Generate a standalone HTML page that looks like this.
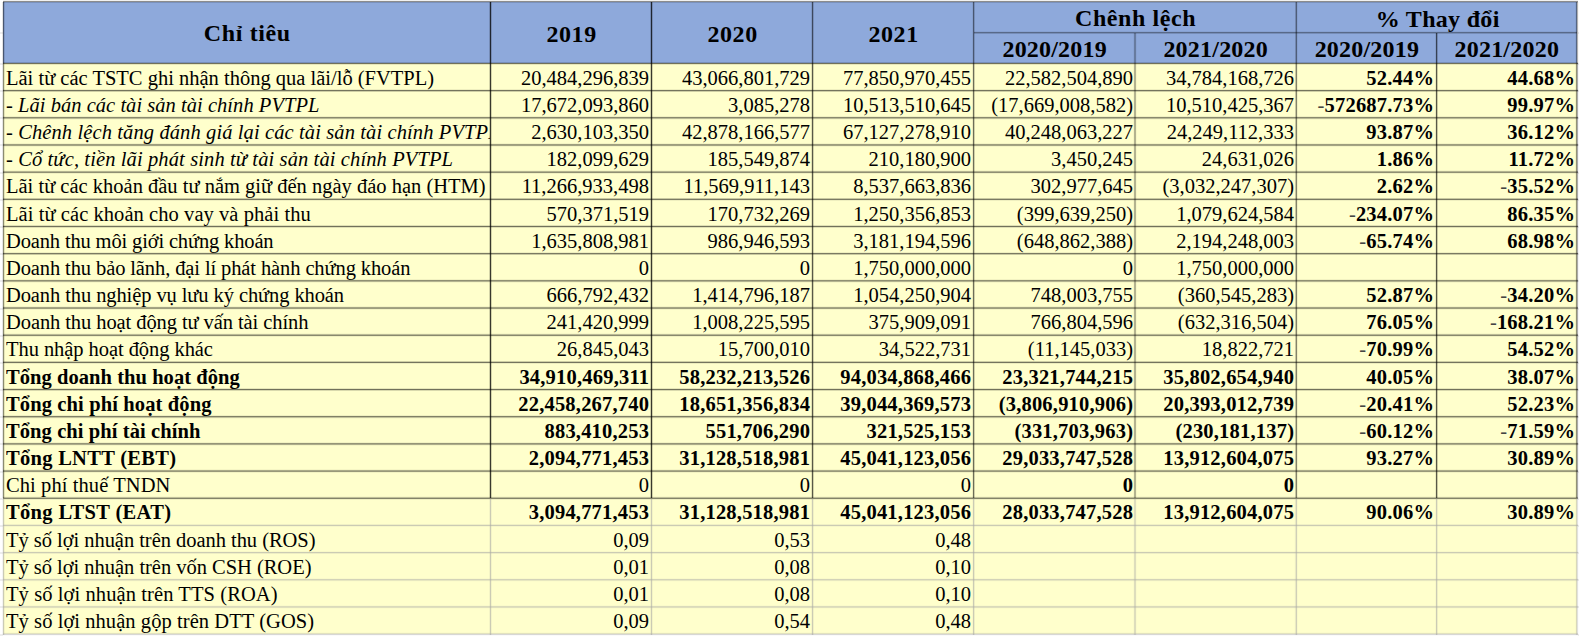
<!DOCTYPE html>
<html><head><meta charset="utf-8"><style>
html,body{margin:0;padding:0;}
body{width:1579px;height:637px;overflow:hidden;background:#fff;position:relative;font-family:"Liberation Serif",serif;color:#000;}
body>div{position:absolute;}

.t{height:20.5px;font-size:20.5px;line-height:20.5px;white-space:nowrap;}
.l{overflow:hidden;padding-top:6px;height:30px;}
.n{text-align:right;}
.bo{font-weight:bold;}
.it{font-style:italic;}
.h{height:24px;font-size:24px;line-height:24px;font-weight:bold;white-space:nowrap;text-align:center;}
</style></head><body>
<div style="left:3px;top:2px;width:1574px;height:61px;background:#8ea9db"></div>
<div style="left:3px;top:63px;width:1574px;height:571px;background:#ffffcc"></div>
<div style="left:0;top:63px;width:3px;height:2px;background:rgba(0,0,0,0.07)"></div>
<div style="left:1578px;top:63px;width:1px;height:2px;background:rgba(0,0,0,0.07)"></div>
<div style="left:0;top:90px;width:3px;height:2px;background:rgba(0,0,0,0.07)"></div>
<div style="left:1578px;top:90px;width:1px;height:2px;background:rgba(0,0,0,0.07)"></div>
<div style="left:0;top:117px;width:3px;height:2px;background:rgba(0,0,0,0.07)"></div>
<div style="left:1578px;top:117px;width:1px;height:2px;background:rgba(0,0,0,0.07)"></div>
<div style="left:0;top:144px;width:3px;height:2px;background:rgba(0,0,0,0.07)"></div>
<div style="left:1578px;top:144px;width:1px;height:2px;background:rgba(0,0,0,0.07)"></div>
<div style="left:0;top:172px;width:3px;height:2px;background:rgba(0,0,0,0.07)"></div>
<div style="left:1578px;top:172px;width:1px;height:2px;background:rgba(0,0,0,0.07)"></div>
<div style="left:0;top:199px;width:3px;height:2px;background:rgba(0,0,0,0.07)"></div>
<div style="left:1578px;top:199px;width:1px;height:2px;background:rgba(0,0,0,0.07)"></div>
<div style="left:0;top:226px;width:3px;height:2px;background:rgba(0,0,0,0.07)"></div>
<div style="left:1578px;top:226px;width:1px;height:2px;background:rgba(0,0,0,0.07)"></div>
<div style="left:0;top:253px;width:3px;height:2px;background:rgba(0,0,0,0.07)"></div>
<div style="left:1578px;top:253px;width:1px;height:2px;background:rgba(0,0,0,0.07)"></div>
<div style="left:0;top:280px;width:3px;height:2px;background:rgba(0,0,0,0.07)"></div>
<div style="left:1578px;top:280px;width:1px;height:2px;background:rgba(0,0,0,0.07)"></div>
<div style="left:0;top:308px;width:3px;height:2px;background:rgba(0,0,0,0.07)"></div>
<div style="left:1578px;top:308px;width:1px;height:2px;background:rgba(0,0,0,0.07)"></div>
<div style="left:0;top:335px;width:3px;height:2px;background:rgba(0,0,0,0.07)"></div>
<div style="left:1578px;top:335px;width:1px;height:2px;background:rgba(0,0,0,0.07)"></div>
<div style="left:0;top:362px;width:3px;height:2px;background:rgba(0,0,0,0.07)"></div>
<div style="left:1578px;top:362px;width:1px;height:2px;background:rgba(0,0,0,0.07)"></div>
<div style="left:0;top:389px;width:3px;height:2px;background:rgba(0,0,0,0.07)"></div>
<div style="left:1578px;top:389px;width:1px;height:2px;background:rgba(0,0,0,0.07)"></div>
<div style="left:0;top:416px;width:3px;height:2px;background:rgba(0,0,0,0.07)"></div>
<div style="left:1578px;top:416px;width:1px;height:2px;background:rgba(0,0,0,0.07)"></div>
<div style="left:0;top:443px;width:3px;height:2px;background:rgba(0,0,0,0.07)"></div>
<div style="left:1578px;top:443px;width:1px;height:2px;background:rgba(0,0,0,0.07)"></div>
<div style="left:0;top:471px;width:3px;height:2px;background:rgba(0,0,0,0.07)"></div>
<div style="left:1578px;top:471px;width:1px;height:2px;background:rgba(0,0,0,0.07)"></div>
<div style="left:0;top:498px;width:3px;height:2px;background:rgba(0,0,0,0.07)"></div>
<div style="left:1578px;top:498px;width:1px;height:2px;background:rgba(0,0,0,0.07)"></div>
<div style="left:0;top:525px;width:3px;height:2px;background:rgba(0,0,0,0.07)"></div>
<div style="left:1578px;top:525px;width:1px;height:2px;background:rgba(0,0,0,0.07)"></div>
<div style="left:0;top:552px;width:3px;height:2px;background:rgba(0,0,0,0.07)"></div>
<div style="left:1578px;top:552px;width:1px;height:2px;background:rgba(0,0,0,0.07)"></div>
<div style="left:0;top:579px;width:3px;height:2px;background:rgba(0,0,0,0.07)"></div>
<div style="left:1578px;top:579px;width:1px;height:2px;background:rgba(0,0,0,0.07)"></div>
<div style="left:0;top:606px;width:3px;height:2px;background:rgba(0,0,0,0.07)"></div>
<div style="left:1578px;top:606px;width:1px;height:2px;background:rgba(0,0,0,0.07)"></div>
<div style="left:0;top:634px;width:3px;height:2px;background:rgba(0,0,0,0.07)"></div>
<div style="left:1578px;top:634px;width:1px;height:2px;background:rgba(0,0,0,0.07)"></div>
<div style="left:0;top:32px;width:3px;height:2px;background:rgba(0,0,0,0.07)"></div>
<div style="left:1578px;top:32px;width:1px;height:2px;background:rgba(0,0,0,0.07)"></div>
<div style="left:3px;top:0px;width:1575px;height:1px;background:rgba(0,0,0,0.055)"></div>
<div style="left:3px;top:1px;width:1575px;height:1px;background:rgba(0,0,0,0.451)"></div>
<div style="left:3px;top:2px;width:1575px;height:1px;background:rgba(0,0,0,0.143)"></div>
<div style="left:974px;top:31px;width:603px;height:1px;background:rgba(0,0,0,0.045)"></div>
<div style="left:974px;top:32px;width:603px;height:1px;background:rgba(0,0,0,0.375)"></div>
<div style="left:974px;top:33px;width:603px;height:1px;background:rgba(0,0,0,0.165)"></div>
<div style="left:3px;top:62px;width:1575px;height:1px;background:rgba(0,0,0,0.150)"></div>
<div style="left:3px;top:63px;width:1575px;height:1px;background:rgba(0,0,0,0.558)"></div>
<div style="left:3px;top:64px;width:1575px;height:1px;background:rgba(0,0,0,0.095)"></div>
<div style="left:3px;top:89px;width:1575px;height:1px;background:rgba(0,0,0,0.066)"></div>
<div style="left:3px;top:90px;width:1575px;height:1px;background:rgba(0,0,0,0.546)"></div>
<div style="left:3px;top:91px;width:1575px;height:1px;background:rgba(0,0,0,0.189)"></div>
<div style="left:3px;top:116px;width:1575px;height:1px;background:rgba(0,0,0,0.054)"></div>
<div style="left:3px;top:117px;width:1575px;height:1px;background:rgba(0,0,0,0.462)"></div>
<div style="left:3px;top:118px;width:1575px;height:1px;background:rgba(0,0,0,0.272)"></div>
<div style="left:3px;top:119px;width:1575px;height:1px;background:rgba(0,0,0,0.027)"></div>
<div style="left:3px;top:143px;width:1575px;height:1px;background:rgba(0,0,0,0.042)"></div>
<div style="left:3px;top:144px;width:1575px;height:1px;background:rgba(0,0,0,0.379)"></div>
<div style="left:3px;top:145px;width:1575px;height:1px;background:rgba(0,0,0,0.355)"></div>
<div style="left:3px;top:146px;width:1575px;height:1px;background:rgba(0,0,0,0.039)"></div>
<div style="left:3px;top:170px;width:1575px;height:1px;background:rgba(0,0,0,0.031)"></div>
<div style="left:3px;top:171px;width:1575px;height:1px;background:rgba(0,0,0,0.296)"></div>
<div style="left:3px;top:172px;width:1575px;height:1px;background:rgba(0,0,0,0.439)"></div>
<div style="left:3px;top:173px;width:1575px;height:1px;background:rgba(0,0,0,0.051)"></div>
<div style="left:3px;top:198px;width:1575px;height:1px;background:rgba(0,0,0,0.213)"></div>
<div style="left:3px;top:199px;width:1575px;height:1px;background:rgba(0,0,0,0.522)"></div>
<div style="left:3px;top:200px;width:1575px;height:1px;background:rgba(0,0,0,0.063)"></div>
<div style="left:3px;top:225px;width:1575px;height:1px;background:rgba(0,0,0,0.122)"></div>
<div style="left:3px;top:226px;width:1575px;height:1px;background:rgba(0,0,0,0.558)"></div>
<div style="left:3px;top:227px;width:1575px;height:1px;background:rgba(0,0,0,0.122)"></div>
<div style="left:3px;top:252px;width:1575px;height:1px;background:rgba(0,0,0,0.063)"></div>
<div style="left:3px;top:253px;width:1575px;height:1px;background:rgba(0,0,0,0.522)"></div>
<div style="left:3px;top:254px;width:1575px;height:1px;background:rgba(0,0,0,0.213)"></div>
<div style="left:3px;top:279px;width:1575px;height:1px;background:rgba(0,0,0,0.051)"></div>
<div style="left:3px;top:280px;width:1575px;height:1px;background:rgba(0,0,0,0.439)"></div>
<div style="left:3px;top:281px;width:1575px;height:1px;background:rgba(0,0,0,0.296)"></div>
<div style="left:3px;top:282px;width:1575px;height:1px;background:rgba(0,0,0,0.031)"></div>
<div style="left:3px;top:306px;width:1575px;height:1px;background:rgba(0,0,0,0.039)"></div>
<div style="left:3px;top:307px;width:1575px;height:1px;background:rgba(0,0,0,0.355)"></div>
<div style="left:3px;top:308px;width:1575px;height:1px;background:rgba(0,0,0,0.379)"></div>
<div style="left:3px;top:309px;width:1575px;height:1px;background:rgba(0,0,0,0.043)"></div>
<div style="left:3px;top:333px;width:1575px;height:1px;background:rgba(0,0,0,0.027)"></div>
<div style="left:3px;top:334px;width:1575px;height:1px;background:rgba(0,0,0,0.272)"></div>
<div style="left:3px;top:335px;width:1575px;height:1px;background:rgba(0,0,0,0.462)"></div>
<div style="left:3px;top:336px;width:1575px;height:1px;background:rgba(0,0,0,0.054)"></div>
<div style="left:3px;top:361px;width:1575px;height:1px;background:rgba(0,0,0,0.189)"></div>
<div style="left:3px;top:362px;width:1575px;height:1px;background:rgba(0,0,0,0.546)"></div>
<div style="left:3px;top:363px;width:1575px;height:1px;background:rgba(0,0,0,0.066)"></div>
<div style="left:3px;top:388px;width:1575px;height:1px;background:rgba(0,0,0,0.095)"></div>
<div style="left:3px;top:389px;width:1575px;height:1px;background:rgba(0,0,0,0.558)"></div>
<div style="left:3px;top:390px;width:1575px;height:1px;background:rgba(0,0,0,0.150)"></div>
<div style="left:3px;top:415px;width:1575px;height:1px;background:rgba(0,0,0,0.060)"></div>
<div style="left:3px;top:416px;width:1575px;height:1px;background:rgba(0,0,0,0.498)"></div>
<div style="left:3px;top:417px;width:1575px;height:1px;background:rgba(0,0,0,0.236)"></div>
<div style="left:3px;top:418px;width:1575px;height:1px;background:rgba(0,0,0,0.022)"></div>
<div style="left:3px;top:442px;width:1575px;height:1px;background:rgba(0,0,0,0.048)"></div>
<div style="left:3px;top:443px;width:1575px;height:1px;background:rgba(0,0,0,0.415)"></div>
<div style="left:3px;top:444px;width:1575px;height:1px;background:rgba(0,0,0,0.320)"></div>
<div style="left:3px;top:445px;width:1575px;height:1px;background:rgba(0,0,0,0.034)"></div>
<div style="left:3px;top:469px;width:1575px;height:1px;background:rgba(0,0,0,0.036)"></div>
<div style="left:3px;top:470px;width:1575px;height:1px;background:rgba(0,0,0,0.332)"></div>
<div style="left:3px;top:471px;width:1575px;height:1px;background:rgba(0,0,0,0.403)"></div>
<div style="left:3px;top:472px;width:1575px;height:1px;background:rgba(0,0,0,0.046)"></div>
<div style="left:3px;top:496px;width:1575px;height:1px;background:rgba(0,0,0,0.024)"></div>
<div style="left:3px;top:497px;width:1575px;height:1px;background:rgba(0,0,0,0.248)"></div>
<div style="left:3px;top:498px;width:1575px;height:1px;background:rgba(0,0,0,0.486)"></div>
<div style="left:3px;top:499px;width:1575px;height:1px;background:rgba(0,0,0,0.058)"></div>
<div style="left:3px;top:524px;width:1575px;height:1px;background:rgba(170,170,165,0.180)"></div>
<div style="left:3px;top:525px;width:1575px;height:1px;background:rgba(170,170,165,0.615)"></div>
<div style="left:3px;top:526px;width:1575px;height:1px;background:rgba(170,170,165,0.090)"></div>
<div style="left:3px;top:551px;width:1575px;height:1px;background:rgba(170,170,165,0.075)"></div>
<div style="left:3px;top:552px;width:1575px;height:1px;background:rgba(170,170,165,0.615)"></div>
<div style="left:3px;top:553px;width:1575px;height:1px;background:rgba(170,170,165,0.195)"></div>
<div style="left:3px;top:578px;width:1575px;height:1px;background:rgba(170,170,165,0.062)"></div>
<div style="left:3px;top:579px;width:1575px;height:1px;background:rgba(170,170,165,0.523)"></div>
<div style="left:3px;top:580px;width:1575px;height:1px;background:rgba(170,170,165,0.287)"></div>
<div style="left:3px;top:581px;width:1575px;height:1px;background:rgba(170,170,165,0.028)"></div>
<div style="left:3px;top:605px;width:1575px;height:1px;background:rgba(170,170,165,0.049)"></div>
<div style="left:3px;top:606px;width:1575px;height:1px;background:rgba(170,170,165,0.431)"></div>
<div style="left:3px;top:607px;width:1575px;height:1px;background:rgba(170,170,165,0.379)"></div>
<div style="left:3px;top:608px;width:1575px;height:1px;background:rgba(170,170,165,0.041)"></div>
<div style="left:3px;top:632px;width:1575px;height:1px;background:rgba(170,170,165,0.036)"></div>
<div style="left:3px;top:633px;width:1575px;height:1px;background:rgba(170,170,165,0.339)"></div>
<div style="left:3px;top:634px;width:1575px;height:1px;background:rgba(170,170,165,0.471)"></div>
<div style="left:3px;top:635px;width:1575px;height:1px;background:rgba(170,170,165,0.054)"></div>
<div style="left:2px;top:2px;width:1px;height:61px;background:rgba(0,0,0,0.108)"></div>
<div style="left:3px;top:2px;width:1px;height:61px;background:rgba(0,0,0,0.492)"></div>
<div style="left:4px;top:2px;width:1px;height:61px;background:rgba(0,0,0,0.108)"></div>
<div style="left:2px;top:63px;width:1px;height:435px;background:rgba(0,0,0,0.099)"></div>
<div style="left:3px;top:63px;width:1px;height:435px;background:rgba(0,0,0,0.451)"></div>
<div style="left:4px;top:63px;width:1px;height:435px;background:rgba(0,0,0,0.099)"></div>
<div style="left:2px;top:499px;width:1px;height:136px;background:rgba(170,170,165,0.135)"></div>
<div style="left:3px;top:499px;width:1px;height:136px;background:rgba(170,170,165,0.615)"></div>
<div style="left:4px;top:499px;width:1px;height:136px;background:rgba(170,170,165,0.135)"></div>
<div style="left:489px;top:2px;width:1px;height:61px;background:rgba(0,0,0,0.171)"></div>
<div style="left:490px;top:2px;width:1px;height:61px;background:rgba(0,0,0,0.779)"></div>
<div style="left:491px;top:2px;width:1px;height:61px;background:rgba(0,0,0,0.171)"></div>
<div style="left:489px;top:63px;width:1px;height:435px;background:rgba(0,0,0,0.171)"></div>
<div style="left:490px;top:63px;width:1px;height:435px;background:rgba(0,0,0,0.779)"></div>
<div style="left:491px;top:63px;width:1px;height:435px;background:rgba(0,0,0,0.171)"></div>
<div style="left:489px;top:499px;width:1px;height:136px;background:rgba(170,170,165,0.135)"></div>
<div style="left:490px;top:499px;width:1px;height:136px;background:rgba(170,170,165,0.615)"></div>
<div style="left:491px;top:499px;width:1px;height:136px;background:rgba(170,170,165,0.135)"></div>
<div style="left:650px;top:2px;width:1px;height:61px;background:rgba(0,0,0,0.171)"></div>
<div style="left:651px;top:2px;width:1px;height:61px;background:rgba(0,0,0,0.779)"></div>
<div style="left:652px;top:2px;width:1px;height:61px;background:rgba(0,0,0,0.171)"></div>
<div style="left:650px;top:63px;width:1px;height:435px;background:rgba(0,0,0,0.171)"></div>
<div style="left:651px;top:63px;width:1px;height:435px;background:rgba(0,0,0,0.779)"></div>
<div style="left:652px;top:63px;width:1px;height:435px;background:rgba(0,0,0,0.171)"></div>
<div style="left:650px;top:499px;width:1px;height:136px;background:rgba(170,170,165,0.135)"></div>
<div style="left:651px;top:499px;width:1px;height:136px;background:rgba(170,170,165,0.615)"></div>
<div style="left:652px;top:499px;width:1px;height:136px;background:rgba(170,170,165,0.135)"></div>
<div style="left:811px;top:2px;width:1px;height:61px;background:rgba(0,0,0,0.098)"></div>
<div style="left:812px;top:2px;width:1px;height:61px;background:rgba(0,0,0,0.574)"></div>
<div style="left:813px;top:2px;width:1px;height:61px;background:rgba(0,0,0,0.154)"></div>
<div style="left:811px;top:63px;width:1px;height:435px;background:rgba(0,0,0,0.112)"></div>
<div style="left:812px;top:63px;width:1px;height:435px;background:rgba(0,0,0,0.656)"></div>
<div style="left:813px;top:63px;width:1px;height:435px;background:rgba(0,0,0,0.176)"></div>
<div style="left:811px;top:499px;width:1px;height:136px;background:rgba(170,170,165,0.105)"></div>
<div style="left:812px;top:499px;width:1px;height:136px;background:rgba(170,170,165,0.615)"></div>
<div style="left:813px;top:499px;width:1px;height:136px;background:rgba(170,170,165,0.165)"></div>
<div style="left:972px;top:2px;width:1px;height:61px;background:rgba(0,0,0,0.060)"></div>
<div style="left:973px;top:2px;width:1px;height:61px;background:rgba(0,0,0,0.492)"></div>
<div style="left:974px;top:2px;width:1px;height:61px;background:rgba(0,0,0,0.156)"></div>
<div style="left:972px;top:63px;width:1px;height:435px;background:rgba(0,0,0,0.070)"></div>
<div style="left:973px;top:63px;width:1px;height:435px;background:rgba(0,0,0,0.574)"></div>
<div style="left:974px;top:63px;width:1px;height:435px;background:rgba(0,0,0,0.182)"></div>
<div style="left:972px;top:499px;width:1px;height:136px;background:rgba(170,170,165,0.075)"></div>
<div style="left:973px;top:499px;width:1px;height:136px;background:rgba(170,170,165,0.615)"></div>
<div style="left:974px;top:499px;width:1px;height:136px;background:rgba(170,170,165,0.195)"></div>
<div style="left:1133px;top:33px;width:1px;height:30px;background:rgba(0,0,0,0.030)"></div>
<div style="left:1134px;top:33px;width:1px;height:30px;background:rgba(0,0,0,0.270)"></div>
<div style="left:1135px;top:33px;width:1px;height:30px;background:rgba(0,0,0,0.270)"></div>
<div style="left:1136px;top:33px;width:1px;height:30px;background:rgba(0,0,0,0.030)"></div>
<div style="left:1133px;top:63px;width:1px;height:435px;background:rgba(0,0,0,0.033)"></div>
<div style="left:1134px;top:63px;width:1px;height:435px;background:rgba(0,0,0,0.297)"></div>
<div style="left:1135px;top:63px;width:1px;height:435px;background:rgba(0,0,0,0.297)"></div>
<div style="left:1136px;top:63px;width:1px;height:435px;background:rgba(0,0,0,0.033)"></div>
<div style="left:1133px;top:499px;width:1px;height:136px;background:rgba(170,170,165,0.045)"></div>
<div style="left:1134px;top:499px;width:1px;height:136px;background:rgba(170,170,165,0.405)"></div>
<div style="left:1135px;top:499px;width:1px;height:136px;background:rgba(170,170,165,0.405)"></div>
<div style="left:1136px;top:499px;width:1px;height:136px;background:rgba(170,170,165,0.045)"></div>
<div style="left:1295px;top:2px;width:1px;height:61px;background:rgba(0,0,0,0.198)"></div>
<div style="left:1296px;top:2px;width:1px;height:61px;background:rgba(0,0,0,0.450)"></div>
<div style="left:1297px;top:2px;width:1px;height:61px;background:rgba(0,0,0,0.054)"></div>
<div style="left:1295px;top:63px;width:1px;height:435px;background:rgba(0,0,0,0.214)"></div>
<div style="left:1296px;top:63px;width:1px;height:435px;background:rgba(0,0,0,0.487)"></div>
<div style="left:1297px;top:63px;width:1px;height:435px;background:rgba(0,0,0,0.058)"></div>
<div style="left:1294px;top:499px;width:1px;height:136px;background:rgba(170,170,165,0.022)"></div>
<div style="left:1295px;top:499px;width:1px;height:136px;background:rgba(170,170,165,0.247)"></div>
<div style="left:1296px;top:499px;width:1px;height:136px;background:rgba(170,170,165,0.562)"></div>
<div style="left:1297px;top:499px;width:1px;height:136px;background:rgba(170,170,165,0.067)"></div>
<div style="left:1435px;top:33px;width:1px;height:30px;background:rgba(0,0,0,0.075)"></div>
<div style="left:1436px;top:33px;width:1px;height:30px;background:rgba(0,0,0,0.615)"></div>
<div style="left:1437px;top:33px;width:1px;height:30px;background:rgba(0,0,0,0.195)"></div>
<div style="left:1435px;top:63px;width:1px;height:435px;background:rgba(0,0,0,0.080)"></div>
<div style="left:1436px;top:63px;width:1px;height:435px;background:rgba(0,0,0,0.656)"></div>
<div style="left:1437px;top:63px;width:1px;height:435px;background:rgba(0,0,0,0.208)"></div>
<div style="left:1435px;top:499px;width:1px;height:136px;background:rgba(170,170,165,0.075)"></div>
<div style="left:1436px;top:499px;width:1px;height:136px;background:rgba(170,170,165,0.615)"></div>
<div style="left:1437px;top:499px;width:1px;height:136px;background:rgba(170,170,165,0.195)"></div>
<div style="left:1575px;top:2px;width:1px;height:61px;background:rgba(0,0,0,0.045)"></div>
<div style="left:1576px;top:2px;width:1px;height:61px;background:rgba(0,0,0,0.396)"></div>
<div style="left:1577px;top:2px;width:1px;height:61px;background:rgba(0,0,0,0.305)"></div>
<div style="left:1578px;top:2px;width:1px;height:61px;background:rgba(0,0,0,0.033)"></div>
<div style="left:1575px;top:63px;width:1px;height:435px;background:rgba(0,0,0,0.049)"></div>
<div style="left:1576px;top:63px;width:1px;height:435px;background:rgba(0,0,0,0.427)"></div>
<div style="left:1577px;top:63px;width:1px;height:435px;background:rgba(0,0,0,0.329)"></div>
<div style="left:1578px;top:63px;width:1px;height:435px;background:rgba(0,0,0,0.035)"></div>
<div style="left:1575px;top:499px;width:1px;height:136px;background:rgba(170,170,165,0.052)"></div>
<div style="left:1576px;top:499px;width:1px;height:136px;background:rgba(170,170,165,0.457)"></div>
<div style="left:1577px;top:499px;width:1px;height:136px;background:rgba(170,170,165,0.352)"></div>
<div style="left:1578px;top:499px;width:1px;height:136px;background:rgba(170,170,165,0.038)"></div>
<div class="h" style="left:47.32px;width:400px;top:21.40px;letter-spacing:0.64px">Chỉ tiêu</div>
<div class="h" style="left:371.60px;width:400px;top:21.50px;letter-spacing:0.6px">2019</div>
<div class="h" style="left:532.60px;width:400px;top:21.50px;letter-spacing:0.6px">2020</div>
<div class="h" style="left:693.60px;width:400px;top:21.50px;letter-spacing:0.6px">2021</div>
<div class="h" style="left:935.65px;width:400px;top:5.60px;letter-spacing:0.6px">Chênh lệch</div>
<div class="h" style="left:1237.65px;width:400px;top:6.50px;letter-spacing:0.3px">% Thay đổi</div>
<div class="h" style="left:854.70px;width:400px;top:37.00px;letter-spacing:0.2px">2020/2019</div>
<div class="h" style="left:1015.71px;width:400px;top:37.00px;letter-spacing:0.22px">2021/2020</div>
<div class="h" style="left:1166.90px;width:400px;top:37.00px;letter-spacing:0.2px">2020/2019</div>
<div class="h" style="left:1306.81px;width:400px;top:37.00px;letter-spacing:0.22px">2021/2020</div>
<div class="t l" style="left:6px;width:484px;top:61.83px;letter-spacing:0px">Lãi từ các TSTC ghi nhận thông qua lãi/lỗ (FVTPL)</div>
<div class="t n" style="left:490px;width:159px;top:67.83px">20,484,296,839</div>
<div class="t n" style="left:651px;width:159px;top:67.83px">43,066,801,729</div>
<div class="t n" style="left:812px;width:159px;top:67.83px">77,850,970,455</div>
<div class="t n" style="left:973px;width:160px;top:67.83px">22,582,504,890</div>
<div class="t n" style="left:1135px;width:159px;top:67.83px">34,784,168,726</div>
<div class="t n bo" style="left:1296px;width:138.20px;letter-spacing:0.2px;top:67.83px">52.44%</div>
<div class="t n bo" style="left:1436px;width:139.20px;letter-spacing:0.2px;top:67.83px">44.68%</div>
<div class="t l it" style="left:6px;width:484px;top:89.00px;letter-spacing:0.036px">- Lãi bán các tài sản tài chính PVTPL</div>
<div class="t n" style="left:490px;width:159px;top:95.00px">17,672,093,860</div>
<div class="t n" style="left:651px;width:159px;top:95.00px">3,085,278</div>
<div class="t n" style="left:812px;width:159px;top:95.00px">10,513,510,645</div>
<div class="t n" style="left:973px;width:160px;top:95.00px">(17,669,008,582)</div>
<div class="t n" style="left:1135px;width:159px;top:95.00px">10,510,425,367</div>
<div class="t n bo" style="left:1296px;width:138.20px;letter-spacing:0.2px;top:95.00px"><span style="font-weight:normal;color:#444">-</span>572687.73%</div>
<div class="t n bo" style="left:1436px;width:139.20px;letter-spacing:0.2px;top:95.00px">99.97%</div>
<div class="t l it" style="left:6px;width:484px;top:116.16px;letter-spacing:0.108px">- Chênh lệch tăng đánh giá lại các tài sản tài chính PVTPL</div>
<div class="t n" style="left:490px;width:159px;top:122.16px">2,630,103,350</div>
<div class="t n" style="left:651px;width:159px;top:122.16px">42,878,166,577</div>
<div class="t n" style="left:812px;width:159px;top:122.16px">67,127,278,910</div>
<div class="t n" style="left:973px;width:160px;top:122.16px">40,248,063,227</div>
<div class="t n" style="left:1135px;width:159px;top:122.16px">24,249,112,333</div>
<div class="t n bo" style="left:1296px;width:138.20px;letter-spacing:0.2px;top:122.16px">93.87%</div>
<div class="t n bo" style="left:1436px;width:139.20px;letter-spacing:0.2px;top:122.16px">36.12%</div>
<div class="t l it" style="left:6px;width:484px;top:143.32px;letter-spacing:0.113px">- Cổ tức, tiền lãi phát sinh từ tài sản tài chính PVTPL</div>
<div class="t n" style="left:490px;width:159px;top:149.32px">182,099,629</div>
<div class="t n" style="left:651px;width:159px;top:149.32px">185,549,874</div>
<div class="t n" style="left:812px;width:159px;top:149.32px">210,180,900</div>
<div class="t n" style="left:973px;width:160px;top:149.32px">3,450,245</div>
<div class="t n" style="left:1135px;width:159px;top:149.32px">24,631,026</div>
<div class="t n bo" style="left:1296px;width:138.20px;letter-spacing:0.2px;top:149.32px">1.86%</div>
<div class="t n bo" style="left:1436px;width:139.20px;letter-spacing:0.2px;top:149.32px">11.72%</div>
<div class="t l" style="left:6px;width:484px;top:170.49px;letter-spacing:0px">Lãi từ các khoản đầu tư nắm giữ đến ngày đáo hạn (HTM)</div>
<div class="t n" style="left:490px;width:159px;top:176.49px">11,266,933,498</div>
<div class="t n" style="left:651px;width:159px;top:176.49px">11,569,911,143</div>
<div class="t n" style="left:812px;width:159px;top:176.49px">8,537,663,836</div>
<div class="t n" style="left:973px;width:160px;top:176.49px">302,977,645</div>
<div class="t n" style="left:1135px;width:159px;top:176.49px">(3,032,247,307)</div>
<div class="t n bo" style="left:1296px;width:138.20px;letter-spacing:0.2px;top:176.49px">2.62%</div>
<div class="t n bo" style="left:1436px;width:139.20px;letter-spacing:0.2px;top:176.49px"><span style="font-weight:normal;color:#444">-</span>35.52%</div>
<div class="t l" style="left:6px;width:484px;top:197.65px;letter-spacing:0.063px">Lãi từ các khoản cho vay và phải thu</div>
<div class="t n" style="left:490px;width:159px;top:203.65px">570,371,519</div>
<div class="t n" style="left:651px;width:159px;top:203.65px">170,732,269</div>
<div class="t n" style="left:812px;width:159px;top:203.65px">1,250,356,853</div>
<div class="t n" style="left:973px;width:160px;top:203.65px">(399,639,250)</div>
<div class="t n" style="left:1135px;width:159px;top:203.65px">1,079,624,584</div>
<div class="t n bo" style="left:1296px;width:138.20px;letter-spacing:0.2px;top:203.65px"><span style="font-weight:normal;color:#444">-</span>234.07%</div>
<div class="t n bo" style="left:1436px;width:139.20px;letter-spacing:0.2px;top:203.65px">86.35%</div>
<div class="t l" style="left:6px;width:484px;top:224.82px;letter-spacing:-0.148px">Doanh thu môi giới chứng khoán</div>
<div class="t n" style="left:490px;width:159px;top:230.82px">1,635,808,981</div>
<div class="t n" style="left:651px;width:159px;top:230.82px">986,946,593</div>
<div class="t n" style="left:812px;width:159px;top:230.82px">3,181,194,596</div>
<div class="t n" style="left:973px;width:160px;top:230.82px">(648,862,388)</div>
<div class="t n" style="left:1135px;width:159px;top:230.82px">2,194,248,003</div>
<div class="t n bo" style="left:1296px;width:138.20px;letter-spacing:0.2px;top:230.82px"><span style="font-weight:normal;color:#444">-</span>65.74%</div>
<div class="t n bo" style="left:1436px;width:139.20px;letter-spacing:0.2px;top:230.82px">68.98%</div>
<div class="t l" style="left:6px;width:484px;top:251.98px;letter-spacing:-0.11px">Doanh thu bảo lãnh, đại lí phát hành chứng khoán</div>
<div class="t n" style="left:490px;width:159px;top:257.98px">0</div>
<div class="t n" style="left:651px;width:159px;top:257.98px">0</div>
<div class="t n" style="left:812px;width:159px;top:257.98px">1,750,000,000</div>
<div class="t n" style="left:973px;width:160px;top:257.98px">0</div>
<div class="t n" style="left:1135px;width:159px;top:257.98px">1,750,000,000</div>
<div class="t l" style="left:6px;width:484px;top:279.14px;letter-spacing:-0.095px">Doanh thu nghiệp vụ lưu ký chứng khoán</div>
<div class="t n" style="left:490px;width:159px;top:285.14px">666,792,432</div>
<div class="t n" style="left:651px;width:159px;top:285.14px">1,414,796,187</div>
<div class="t n" style="left:812px;width:159px;top:285.14px">1,054,250,904</div>
<div class="t n" style="left:973px;width:160px;top:285.14px">748,003,755</div>
<div class="t n" style="left:1135px;width:159px;top:285.14px">(360,545,283)</div>
<div class="t n bo" style="left:1296px;width:138.20px;letter-spacing:0.2px;top:285.14px">52.87%</div>
<div class="t n bo" style="left:1436px;width:139.20px;letter-spacing:0.2px;top:285.14px"><span style="font-weight:normal;color:#444">-</span>34.20%</div>
<div class="t l" style="left:6px;width:484px;top:306.31px;letter-spacing:-0.086px">Doanh thu hoạt động tư vấn tài chính</div>
<div class="t n" style="left:490px;width:159px;top:312.31px">241,420,999</div>
<div class="t n" style="left:651px;width:159px;top:312.31px">1,008,225,595</div>
<div class="t n" style="left:812px;width:159px;top:312.31px">375,909,091</div>
<div class="t n" style="left:973px;width:160px;top:312.31px">766,804,596</div>
<div class="t n" style="left:1135px;width:159px;top:312.31px">(632,316,504)</div>
<div class="t n bo" style="left:1296px;width:138.20px;letter-spacing:0.2px;top:312.31px">76.05%</div>
<div class="t n bo" style="left:1436px;width:139.20px;letter-spacing:0.2px;top:312.31px"><span style="font-weight:normal;color:#444">-</span>168.21%</div>
<div class="t l" style="left:6px;width:484px;top:333.47px;letter-spacing:-0.064px">Thu nhập hoạt động khác</div>
<div class="t n" style="left:490px;width:159px;top:339.47px">26,845,043</div>
<div class="t n" style="left:651px;width:159px;top:339.47px">15,700,010</div>
<div class="t n" style="left:812px;width:159px;top:339.47px">34,522,731</div>
<div class="t n" style="left:973px;width:160px;top:339.47px">(11,145,033)</div>
<div class="t n" style="left:1135px;width:159px;top:339.47px">18,822,721</div>
<div class="t n bo" style="left:1296px;width:138.20px;letter-spacing:0.2px;top:339.47px"><span style="font-weight:normal;color:#444">-</span>70.99%</div>
<div class="t n bo" style="left:1436px;width:139.20px;letter-spacing:0.2px;top:339.47px">54.52%</div>
<div class="t l bo" style="left:6px;width:484px;top:360.64px;letter-spacing:0.057px">Tổng doanh thu hoạt động</div>
<div class="t n bo" style="left:490px;width:159.20px;letter-spacing:0.2px;top:366.64px">34,910,469,311</div>
<div class="t n bo" style="left:651px;width:159.20px;letter-spacing:0.2px;top:366.64px">58,232,213,526</div>
<div class="t n bo" style="left:812px;width:159.20px;letter-spacing:0.2px;top:366.64px">94,034,868,466</div>
<div class="t n bo" style="left:973px;width:160.20px;letter-spacing:0.2px;top:366.64px">23,321,744,215</div>
<div class="t n bo" style="left:1135px;width:159.20px;letter-spacing:0.2px;top:366.64px">35,802,654,940</div>
<div class="t n bo" style="left:1296px;width:138.20px;letter-spacing:0.2px;top:366.64px">40.05%</div>
<div class="t n bo" style="left:1436px;width:139.20px;letter-spacing:0.2px;top:366.64px">38.07%</div>
<div class="t l bo" style="left:6px;width:484px;top:387.80px;letter-spacing:0.124px">Tổng chi phí hoạt động</div>
<div class="t n bo" style="left:490px;width:159.20px;letter-spacing:0.2px;top:393.80px">22,458,267,740</div>
<div class="t n bo" style="left:651px;width:159.20px;letter-spacing:0.2px;top:393.80px">18,651,356,834</div>
<div class="t n bo" style="left:812px;width:159.20px;letter-spacing:0.2px;top:393.80px">39,044,369,573</div>
<div class="t n bo" style="left:973px;width:160.20px;letter-spacing:0.2px;top:393.80px">(3,806,910,906)</div>
<div class="t n bo" style="left:1135px;width:159.20px;letter-spacing:0.2px;top:393.80px">20,393,012,739</div>
<div class="t n bo" style="left:1296px;width:138.20px;letter-spacing:0.2px;top:393.80px"><span style="font-weight:normal;color:#444">-</span>20.41%</div>
<div class="t n bo" style="left:1436px;width:139.20px;letter-spacing:0.2px;top:393.80px">52.23%</div>
<div class="t l bo" style="left:6px;width:484px;top:414.96px;letter-spacing:0.09px">Tổng chi phí tài chính</div>
<div class="t n bo" style="left:490px;width:159.20px;letter-spacing:0.2px;top:420.96px">883,410,253</div>
<div class="t n bo" style="left:651px;width:159.20px;letter-spacing:0.2px;top:420.96px">551,706,290</div>
<div class="t n bo" style="left:812px;width:159.20px;letter-spacing:0.2px;top:420.96px">321,525,153</div>
<div class="t n bo" style="left:973px;width:160.20px;letter-spacing:0.2px;top:420.96px">(331,703,963)</div>
<div class="t n bo" style="left:1135px;width:159.20px;letter-spacing:0.2px;top:420.96px">(230,181,137)</div>
<div class="t n bo" style="left:1296px;width:138.20px;letter-spacing:0.2px;top:420.96px"><span style="font-weight:normal;color:#444">-</span>60.12%</div>
<div class="t n bo" style="left:1436px;width:139.20px;letter-spacing:0.2px;top:420.96px"><span style="font-weight:normal;color:#444">-</span>71.59%</div>
<div class="t l bo" style="left:6px;width:484px;top:442.13px;letter-spacing:0.29px">Tổng LNTT (EBT)</div>
<div class="t n bo" style="left:490px;width:159.20px;letter-spacing:0.2px;top:448.13px">2,094,771,453</div>
<div class="t n bo" style="left:651px;width:159.20px;letter-spacing:0.2px;top:448.13px">31,128,518,981</div>
<div class="t n bo" style="left:812px;width:159.20px;letter-spacing:0.2px;top:448.13px">45,041,123,056</div>
<div class="t n bo" style="left:973px;width:160.20px;letter-spacing:0.2px;top:448.13px">29,033,747,528</div>
<div class="t n bo" style="left:1135px;width:159.20px;letter-spacing:0.2px;top:448.13px">13,912,604,075</div>
<div class="t n bo" style="left:1296px;width:138.20px;letter-spacing:0.2px;top:448.13px">93.27%</div>
<div class="t n bo" style="left:1436px;width:139.20px;letter-spacing:0.2px;top:448.13px">30.89%</div>
<div class="t l" style="left:6px;width:484px;top:469.29px;letter-spacing:0.08px">Chi phí thuế TNDN</div>
<div class="t n" style="left:490px;width:159px;top:475.29px">0</div>
<div class="t n" style="left:651px;width:159px;top:475.29px">0</div>
<div class="t n" style="left:812px;width:159px;top:475.29px">0</div>
<div class="t n" style="left:973px;width:160px;top:475.29px"><b>0</b></div>
<div class="t n" style="left:1135px;width:159px;top:475.29px"><b>0</b></div>
<div class="t l bo" style="left:6px;width:484px;top:496.46px;letter-spacing:0.34px">Tổng LTST (EAT)</div>
<div class="t n bo" style="left:490px;width:159.20px;letter-spacing:0.2px;top:502.46px">3,094,771,453</div>
<div class="t n bo" style="left:651px;width:159.20px;letter-spacing:0.2px;top:502.46px">31,128,518,981</div>
<div class="t n bo" style="left:812px;width:159.20px;letter-spacing:0.2px;top:502.46px">45,041,123,056</div>
<div class="t n bo" style="left:973px;width:160.20px;letter-spacing:0.2px;top:502.46px">28,033,747,528</div>
<div class="t n bo" style="left:1135px;width:159.20px;letter-spacing:0.2px;top:502.46px">13,912,604,075</div>
<div class="t n bo" style="left:1296px;width:138.20px;letter-spacing:0.2px;top:502.46px">90.06%</div>
<div class="t n bo" style="left:1436px;width:139.20px;letter-spacing:0.2px;top:502.46px">30.89%</div>
<div class="t l" style="left:6px;width:484px;top:523.62px;letter-spacing:-0.04px">Tỷ số lợi nhuận trên doanh thu (ROS)</div>
<div class="t n" style="left:490px;width:159px;top:529.62px">0,09</div>
<div class="t n" style="left:651px;width:159px;top:529.62px">0,53</div>
<div class="t n" style="left:812px;width:159px;top:529.62px">0,48</div>
<div class="t l" style="left:6px;width:484px;top:550.78px;letter-spacing:-0.027px">Tỷ số lợi nhuận trên vốn CSH (ROE)</div>
<div class="t n" style="left:490px;width:159px;top:556.78px">0,01</div>
<div class="t n" style="left:651px;width:159px;top:556.78px">0,08</div>
<div class="t n" style="left:812px;width:159px;top:556.78px">0,10</div>
<div class="t l" style="left:6px;width:484px;top:577.95px;letter-spacing:0.09px">Tỷ số lợi nhuận trên TTS (ROA)</div>
<div class="t n" style="left:490px;width:159px;top:583.95px">0,01</div>
<div class="t n" style="left:651px;width:159px;top:583.95px">0,08</div>
<div class="t n" style="left:812px;width:159px;top:583.95px">0,10</div>
<div class="t l" style="left:6px;width:484px;top:605.11px;letter-spacing:0.064px">Tỷ số lợi nhuận gộp trên DTT (GOS)</div>
<div class="t n" style="left:490px;width:159px;top:611.11px">0,09</div>
<div class="t n" style="left:651px;width:159px;top:611.11px">0,54</div>
<div class="t n" style="left:812px;width:159px;top:611.11px">0,48</div>
</body></html>
